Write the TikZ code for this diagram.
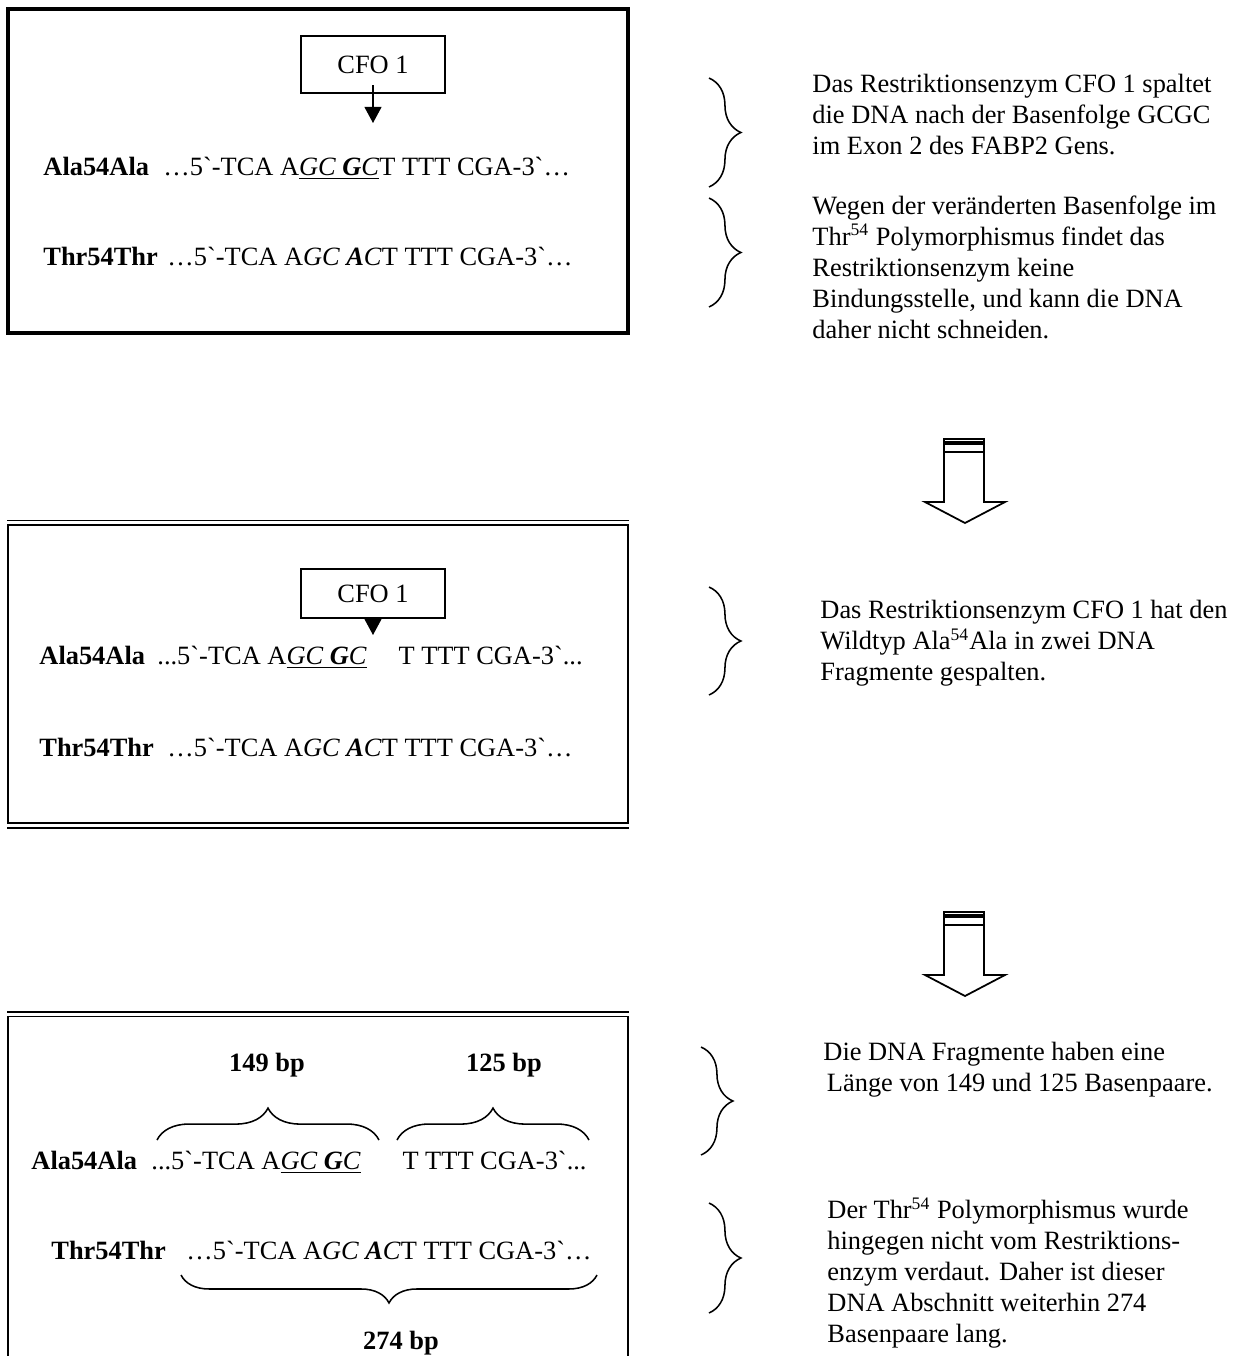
\documentclass[tikz,border=0pt]{standalone}
\usepackage{fontspec}
\setmainfont{Liberation Serif}[Ligatures=TeXOff]
\usepackage{tikz}
\usetikzlibrary{positioning,arrows.meta,decorations.pathreplacing}

\begin{document}
\begin{tikzpicture}[x=0.4545pt,y=-0.4545pt,
    txt/.style={inner sep=0pt, font=\fontsize{12}{14.1}\selectfont},
    seqlbl/.style={txt, anchor=base west, font=\fontsize{12}{14.1}\selectfont\bfseries},
    seq/.style={txt, anchor=base west},
    bplbl/.style={txt, font=\fontsize{12}{14.1}\selectfont\bfseries},
    note/.style={txt, anchor=north west, align=left},
    enzbox/.style={draw, line width=0.75pt, minimum width=65.5pt, inner sep=0pt, font=\fontsize{12}{14.1}\selectfont},
    cutarrow/.style={line width=0.6pt, -{Triangle[length=7.3pt,width=7.7pt]}},
    rbrace/.style={decorate, decoration={brace, amplitude=14.5pt}, line width=0.7pt},
    dbrace/.style={decorate, decoration={brace, amplitude=12.7pt}, line width=0.7pt},
    bigarrow/.style={line width=0.8pt, fill=white}]
                \useasboundingbox (0,0) rectangle (1241,1356);
                \clip (0,0) rectangle (1241,1356);
                \fill[white] (0,0) rectangle (1241,1356);

                \draw[line width=1.4pt] (8,9) rectangle (628,333);
                \node[enzbox, minimum height=25.9pt] (cfoA) at (373,64.5) {CFO 1};
                \coordinate (cutA) at (373,123);
                \draw[cutarrow] ([yshift=4pt]cfoA.south) -- (cutA);
                \node[seqlbl] (alaA) at (43,175) {Ala54Ala};
                \node[seq] (seqAlaA) at (163,175) {…5`-TCA A\underline{\textit{GC \textbf{G}C}}T TTT CGA-3`…};
                \node[seqlbl] (thrA) at (43,265) {Thr54Thr};
                \node[seq] (seqThrA) at (167,265) {…5`-TCA A\textit{GC \textbf{A}C}T TTT CGA-3`…};

                \draw[rbrace] (709,78) -- (709,187);
                \node[note] (noteA) at (812,74) {Das Restriktionsenzym CFO 1 spaltet\\die DNA nach der Basenfolge GCGC\\im Exon 2 des FABP2 Gens.};
                \draw[rbrace] (709,198) -- (709,307);
                \node[note] (noteB) at (812,195) {Wegen der veränderten Basenfolge im\\Thr\textsuperscript{54} Polymorphismus findet das\\Restriktionsenzym keine\\Bindungsstelle, und kann die DNA\\daher nicht schneiden.};

                \foreach \dy in {0,473} {
                    \begin{scope}[shift={(0,\dy)}]
                        \draw[bigarrow] (944,439) rectangle (984,442);
                        \draw[bigarrow] (944,444) rectangle (984,452);
                        \draw[bigarrow] (944,452) -- (944,502) -- (925,502) -- (965,523) -- (1005,502) -- (984,502) -- (984,452) -- cycle;
                    \end{scope}
                }

                \draw[line width=1.1pt] (8,525) rectangle (628,823);
                \draw[line width=0.6pt] (7,520.5) -- (629,520.5);
                \draw[line width=1.1pt] (7,828) -- (629,828);
                \node[enzbox, minimum height=22.3pt] (cfoB) at (373,593.5) {CFO 1};
                \coordinate (cutB) at (373,635);
                \draw[cutarrow] (cfoB.south) -- (cutB);
                \node[seqlbl] (alaB) at (39,664) {Ala54Ala};
                \node[seq] (seqAlaB) at (157,664) {...5`-TCA A\underline{\textit{GC \textbf{G}C}}\hspace{14.5pt}T TTT CGA-3`...};
                \node[seqlbl] (thrB) at (39,756) {Thr54Thr};
                \node[seq] (seqThrB) at (167,756) {…5`-TCA A\textit{GC \textbf{A}C}T TTT CGA-3`…};

                \draw[rbrace] (709,587) -- (709,695);
                \node[note] (noteC) at (820,600) {Das Restriktionsenzym CFO 1 hat den\\Wildtyp Ala\textsuperscript{54}Ala in zwei DNA\\Fragmente gespalten.};

                \draw[line width=1.3pt] (7,1012) -- (629,1012);
                \draw[line width=0.7pt] (8,1400) -- (8,1016.5) -- (628,1016.5) -- (628,1400);
                \node[bplbl] (bpA) at (267,1065) {149 bp};
                \node[bplbl] (bpB) at (504,1065) {125 bp};
                \draw[rbrace] (157,1140) -- (379,1140);
                \draw[rbrace] (397,1140) -- (589,1140);
                \node[seqlbl] (alaC) at (31,1169) {Ala54Ala};
                \node[seq] (seqAlaC) at (151,1169) {...5`-TCA A\underline{\textit{GC \textbf{G}C}}\hspace{19pt}T TTT CGA-3`...};
                \node[seqlbl] (thrC) at (51,1259) {Thr54Thr};
                \node[seq] (seqThrC) at (186,1259) {…5`-TCA A\textit{GC \textbf{A}C}T TTT CGA-3`…};
                \draw[dbrace] (597,1275) -- (181,1275);
                \node[bplbl] (bpC) at (401,1343) {274 bp};

                \draw[rbrace] (701,1047) -- (701,1155);
                \node[note] (noteD) at (823,1042) {Die DNA Fragmente haben eine\\\hspace*{1.6pt}Länge von 149 und 125 Basenpaare.};
                \draw[rbrace] (709,1203) -- (709,1313);
                \node[note] (noteE) at (827,1197) {Der Thr\textsuperscript{54} Polymorphismus wurde\\hingegen nicht vom Restriktions-\\enzym verdaut. Daher ist dieser\\DNA Abschnitt weiterhin 274\\Basenpaare lang.};
\end{tikzpicture}
\end{document}
